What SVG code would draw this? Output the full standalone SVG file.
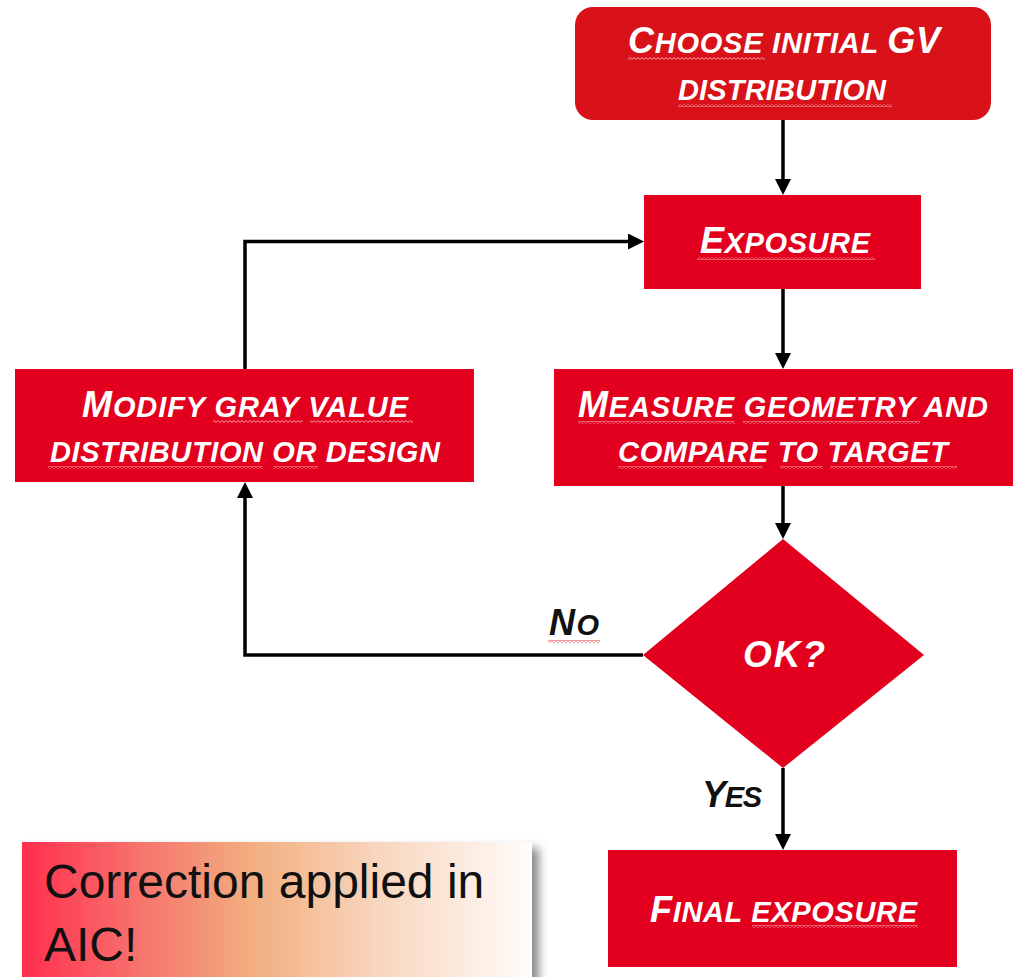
<svg xmlns="http://www.w3.org/2000/svg" width="1018" height="977" viewBox="0 0 1018 977">
  <style>
    .box { fill: #E2001E; }
    .lbl { font-family: "Liberation Sans", Arial, sans-serif; font-weight: bold; font-style: italic; font-size: 29px; fill: #FFFFFF; }
    .lbl .cap { font-size: 36px; }
    .lbl.big { font-size: 37px; }
    .dark { fill: #111111; }
    .wire { fill: none; stroke: #000000; stroke-width: 3.5; marker-end: url(#arrow); }
    .note { font-family: "Liberation Sans", Arial, sans-serif; font-size: 48px; fill: #111111; }
  </style>
  <defs>
    <marker id="arrow" markerUnits="userSpaceOnUse" markerWidth="18" markerHeight="18" refX="8" refY="8" orient="auto">
      <path d="M0,0 L16,8 L0,16 z" fill="#000000"/>
    </marker>
    <!-- wavy spelling marks -->
    <pattern id="squigLight" width="4" height="3" patternUnits="userSpaceOnUse">
      <path d="M0,2.4 L2,0.6 L4,2.4" fill="none" stroke="#F6AEB6" stroke-width="0.9"/>
    </pattern>
    <pattern id="squigRed" width="4" height="3" patternUnits="userSpaceOnUse">
      <path d="M0,2.4 L2,0.6 L4,2.4" fill="none" stroke="#E8262E" stroke-width="0.9"/>
    </pattern>
    <linearGradient id="noteFill" x1="0" y1="0" x2="1" y2="0">
      <stop offset="0" stop-color="#FF2E4D"/>
      <stop offset="0.22" stop-color="#F7706C"/>
      <stop offset="0.45" stop-color="#F2AE7F"/>
      <stop offset="0.7" stop-color="#F8D6BE"/>
      <stop offset="1" stop-color="#FFFCFA"/>
    </linearGradient>
    <filter id="shadow" x="-10%" y="-20%" width="125%" height="150%">
      <feDropShadow dx="7" dy="6" stdDeviation="5" flood-color="#000000" flood-opacity="0.45"/>
    </filter>
  </defs>

  <rect width="1018" height="977" fill="#FFFFFF"/>

  <!-- connectors -->
  <g id="connectors">
    <path class="wire" d="M783,120 V187"/>
    <path class="wire" d="M783,289 V361"/>
    <path class="wire" d="M783,486 V531"/>
    <path class="wire" d="M643,655 H245 V490"/>
    <path class="wire" d="M245,369 V241.5 H636"/>
    <path class="wire" d="M783,768 V842"/>
  </g>

  <g id="node-choose">
    <rect x="575" y="7" width="416" height="113" rx="18" fill="#D91118"/>
    <text class="lbl" x="628" y="53" textLength="312" lengthAdjust="spacing"><tspan class="cap">C</tspan>HOOSE INITIAL <tspan class="cap">GV</tspan></text>
    <text class="lbl" x="678" y="100" textLength="208" lengthAdjust="spacing">DISTRIBUTION</text>
    <rect x="628" y="57" width="137" height="3" fill="url(#squigLight)"/>
    <rect x="678" y="104" width="214" height="3" fill="url(#squigLight)"/>
  </g>

  <g id="node-exposure">
    <rect class="box" x="644" y="195" width="277" height="94"/>
    <text class="lbl" x="700" y="253" textLength="170" lengthAdjust="spacing"><tspan class="cap">E</tspan>XPOSURE</text>
    <rect x="697" y="257" width="178" height="3" fill="url(#squigLight)"/>
  </g>

  <g id="node-modify">
    <rect class="box" x="15" y="369" width="459" height="113"/>
    <text class="lbl" x="82" y="417" textLength="326" lengthAdjust="spacing"><tspan class="cap">M</tspan>ODIFY GRAY VALUE</text>
    <text class="lbl" x="50" y="462" textLength="390" lengthAdjust="spacing">DISTRIBUTION OR DESIGN</text>
    <rect x="213" y="420" width="90" height="3" fill="url(#squigLight)"/>
    <rect x="310" y="420" width="103" height="3" fill="url(#squigLight)"/>
    <rect x="48" y="466" width="215" height="3" fill="url(#squigLight)"/>
    <rect x="273" y="466" width="45" height="3" fill="url(#squigLight)"/>
  </g>

  <g id="node-measure">
    <rect class="box" x="554" y="369" width="459" height="117"/>
    <text class="lbl" x="578" y="417" textLength="410" lengthAdjust="spacing"><tspan class="cap">M</tspan>EASURE GEOMETRY AND</text>
    <text class="lbl" x="618" y="462" textLength="330" lengthAdjust="spacing">COMPARE TO TARGET</text>
    <rect x="578" y="421" width="157" height="3" fill="url(#squigLight)"/>
    <rect x="743" y="421" width="177" height="3" fill="url(#squigLight)"/>
    <rect x="618" y="466" width="145" height="3" fill="url(#squigLight)"/>
    <rect x="780" y="466" width="43" height="3" fill="url(#squigLight)"/>
    <rect x="830" y="466" width="127" height="3" fill="url(#squigLight)"/>
  </g>

  <g id="node-ok">
    <polygon class="box" points="783,539 924,655 783,768 643,655"/>
    <text class="lbl big" x="743" y="667" textLength="82" lengthAdjust="spacing">OK?</text>
  </g>

  <g id="label-no">
    <text class="lbl dark" x="549" y="635" textLength="50" lengthAdjust="spacing"><tspan class="cap">N</tspan>O</text>
    <rect x="548" y="640" width="52" height="3" fill="url(#squigRed)"/>
  </g>

  <g id="label-yes">
    <text class="lbl dark" x="702" y="807" textLength="60" lengthAdjust="spacing"><tspan class="cap">Y</tspan>ES</text>
  </g>

  <g id="node-final">
    <rect class="box" x="608" y="850" width="349" height="117"/>
    <text class="lbl" x="650" y="922" textLength="267" lengthAdjust="spacing"><tspan class="cap">F</tspan>INAL EXPOSURE</text>
    <rect x="752" y="925" width="166" height="3" fill="url(#squigLight)"/>
  </g>

  <g id="note-aic">
    <rect x="22" y="842" width="510" height="150" fill="url(#noteFill)" filter="url(#shadow)"/>
    <text class="note" x="44" y="898">Correction applied in</text>
    <text class="note" x="44" y="961">AIC!</text>
  </g>
</svg>
